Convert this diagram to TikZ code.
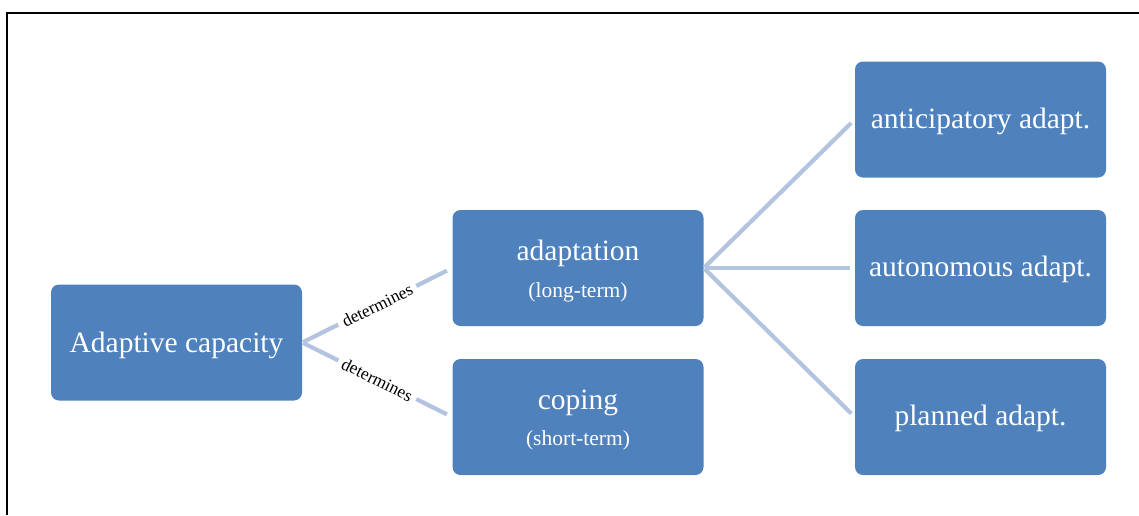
\documentclass[tikz,border=0pt]{standalone}
\usepackage{fontspec}
\setmainfont{Liberation Serif}
\definecolor{boxblue}{RGB}{79,129,189}
\definecolor{linkblue}{RGB}{180,196,224}
\tikzset{
  box/.style={draw=none, fill=boxblue, rounded corners=8pt, minimum width=251pt, minimum height=116pt, inner sep=0pt, text=white, font=\fontsize{29}{34}\selectfont},
  titletext/.style={anchor=base, text=white, inner sep=0pt, font=\fontsize{29.5}{34}\selectfont},
  subtext/.style={anchor=base, text=white, inner sep=0pt, font=\fontsize{21.5}{25}\selectfont},
  link/.style={draw=linkblue, line width=4.2pt},
  linklabel/.style={midway, sloped, fill=white, inner xsep=5pt, inner ysep=3pt, text=black, font=\fontsize{17.5}{20}\selectfont},
  frameline/.style={draw=black, line width=2pt}
}
\begin{document}
\begin{tikzpicture}[x=1pt,y=-1pt]
\useasboundingbox (0,0) rectangle (1139,515);
\coordinate (fA) at (7,515);
\coordinate (fB) at (7,13);
\coordinate (fC) at (1139,13);
\draw[frameline] (fA) -- (fB) -- (fC);

\node[box] (cap) at (176.5,342.5) {};
\node[titletext] (capT) at (176.5,352) {Adaptive capacity};

\node[box] (adapt) at (578,268) {};
\node[titletext] (adaptT) at (578,260) {adaptation};
\node[subtext] (adaptS) at (578,297) {(long-term)};

\node[box] (cope) at (578,417) {};
\node[titletext] (copeT) at (578,409.5) {coping};
\node[subtext] (copeS) at (578,445.5) {(short-term)};

\node[box] (antic) at (980.5,119.5) {};
\node[titletext] (anticT) at (980.5,128) {anticipatory adapt.};

\node[box] (auto) at (980.5,268) {};
\node[titletext] (autoT) at (980.5,276.5) {autonomous adapt.};

\node[box] (plan) at (980.5,417) {};
\node[titletext] (planT) at (980.5,425.5) {planned adapt.};

\draw[link, shorten >=6pt, shorten <=1pt] (cap.east) -- (adapt.west) node[linklabel] {determines};
\draw[link, shorten >=6pt, shorten <=1pt] (cap.east) -- (cope.west) node[linklabel] {determines};

\draw[link, shorten >=5pt, shorten <=1pt] (adapt.east) -- (antic.west);
\draw[link, shorten >=5pt, shorten <=1pt] (adapt.east) -- (auto.west);
\draw[link, shorten >=5pt, shorten <=1pt] (adapt.east) -- (plan.west);
\end{tikzpicture}
\end{document}
